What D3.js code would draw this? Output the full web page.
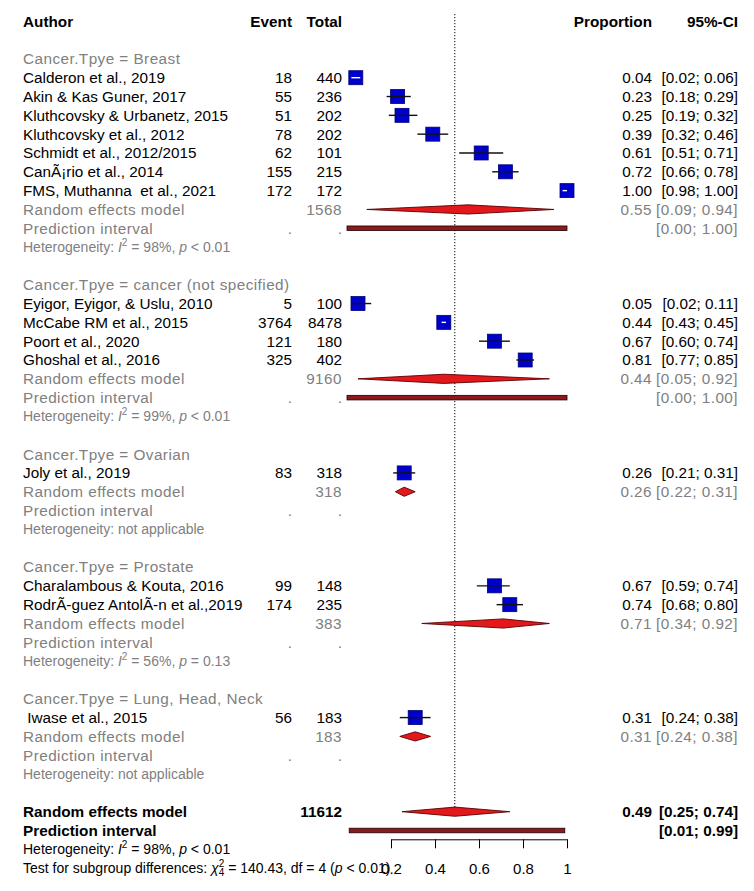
<!DOCTYPE html>
<html>
<head>
<meta charset="utf-8">
<script src="https://cdn.jsdelivr.net/npm/d3@7/dist/d3.min.js"></script>
<style>
  html, body { margin: 0; padding: 0; background: #fff; }
  svg { display: block; }
  text { font-family: "Liberation Sans", Arial, Helvetica, sans-serif; white-space: pre; }
</style>
</head>
<body>
<svg id="chart" width="754" height="891"></svg>
<script>
// ---------------- DATA ----------------
const studyAuthors = [
  "Calderon et al., 2019",
  "Akin & Kas Guner, 2017",
  "Kluthcovsky & Urbanetz, 2015",
  "Kluthcovsky et al., 2012",
  "Schmidt et al., 2012/2015",
  "CanÃ¡rio et al., 2014",
  "FMS, Muthanna  et al., 2021",
  "Eyigor, Eyigor, & Uslu, 2010",
  "McCabe RM et al., 2015",
  "Poort et al., 2020",
  "Ghoshal et al., 2016",
  "Joly et al., 2019",
  "Charalambous & Kouta, 2016",
  "RodrÃ-guez AntolÃ-n et al.,2019",
  " Iwase et al., 2015"
];
const studyEvents = [18, 55, 51, 78, 62, 155, 172, 5, 3764, 121, 325, 83, 99, 174, 56];
const studyTotals = [440, 236, 202, 202, 101, 215, 172, 100, 8478, 180, 402, 318, 148, 235, 183];
const studyProp   = [0.04, 0.23, 0.25, 0.39, 0.61, 0.72, 1.00, 0.05, 0.44, 0.67, 0.81, 0.26, 0.67, 0.74, 0.31];
const studyLower  = [0.02, 0.18, 0.19, 0.32, 0.51, 0.66, 0.98, 0.02, 0.43, 0.60, 0.77, 0.21, 0.59, 0.68, 0.24];
const studyUpper  = [0.06, 0.29, 0.32, 0.46, 0.71, 0.78, 1.00, 0.11, 0.45, 0.74, 0.85, 0.31, 0.74, 0.80, 0.38];
const studyGroup  = [0, 0, 0, 0, 0, 0, 0, 1, 1, 1, 1, 2, 3, 3, 4];

const groupNames   = ["Breast", "cancer (not specified)", "Ovarian", "Prostate", "Lung, Head, Neck"];
const groupTotal   = [1568, 9160, 318, 383, 183];
const groupProp    = [0.55, 0.44, 0.26, 0.71, 0.31];
const groupLower   = [0.09, 0.05, 0.22, 0.34, 0.24];
const groupUpper   = [0.94, 0.92, 0.31, 0.92, 0.38];
const groupPILower = [0.00, 0.00, null, null, null];
const groupPIUpper = [1.00, 1.00, null, null, null];
const groupI2      = [98, 99, null, 56, null];
const groupPval    = ["< 0.01", "< 0.01", null, "= 0.13", null];

const overallTotal = 11612;
const overallProp = 0.49, overallLower = 0.25, overallUpper = 0.74;
const overallPILower = 0.01, overallPIUpper = 0.99;
const overallI2 = 98, overallPval = "< 0.01";
const subgroupChi2 = "140.43", subgroupDf = 4, subgroupPval = "< 0.01";

const axisTicks = [0.2, 0.4, 0.6, 0.8, 1];
const axisTickLabels = ["0.2", "0.4", "0.6", "0.8", "1"];

// ---------------- LAYOUT ----------------
const svg = d3.select("#chart");
svg.append("rect").attr("width", 754).attr("height", 891).attr("fill", "#fff");

const x = d3.scaleLinear().domain([0, 1]).range([347, 567]);
const row0 = 77.7, rowH = 18.82;
const rowY = r => row0 + r * rowH;

const FS = 15.3, FSH = 14;
const GRAY = "#808080";
const xAuthor = 23, xEvent = 292, xTotal = 342, xProp = 652, xCI = 738;
const fmt = v => v.toFixed(2);
const ciStr = (l, u) => "[" + fmt(l) + "; " + fmt(u) + "]";

const gText = svg.append("g");
const gPlot = svg.append("g");

function txt(xp, r, s, opts = {}) {
  const size = opts.size || FS;
  const t = gText.append("text")
    .attr("x", xp)
    .attr("y", rowY(r) + size * 0.358)
    .attr("font-size", size)
    .attr("fill", opts.color || "#000")
    .attr("text-anchor", opts.anchor || "start")
    .attr("font-weight", opts.bold ? "bold" : "normal")
    .text(s);
  if (opts.ls) t.attr("letter-spacing", opts.ls);
  return t;
}

function hetText(r, i2, pv, color) {
  const t = gText.append("text")
    .attr("x", xAuthor).attr("y", rowY(r) + FSH * 0.358)
    .attr("font-size", FSH).attr("fill", color);
  if (i2 === null) {
    t.text("Heterogeneity: not applicable");
    return;
  }
  t.append("tspan").text("Heterogeneity: ");
  t.append("tspan").attr("font-style", "italic").text("I");
  t.append("tspan").attr("font-size", 10).attr("dy", -6).text("2");
  t.append("tspan").attr("dy", 6).text(" = " + i2 + "%, ");
  t.append("tspan").attr("font-style", "italic").text("p");
  t.append("tspan").text(" " + pv);
}

function square(r, p, l, u) {
  const cy = rowY(r), cx = x(p), s = 14;
  gPlot.append("rect")
    .attr("x", cx - s / 2).attr("y", cy - s / 2)
    .attr("width", s).attr("height", s)
    .attr("fill", "#0000cc").attr("stroke", "#00007a").attr("stroke-width", 0.8);
  const inside = x(l) >= cx - s / 2 && x(u) <= cx + s / 2;
  gPlot.append("line")
    .attr("x1", x(l)).attr("x2", x(u)).attr("y1", cy).attr("y2", cy)
    .attr("stroke", inside ? "#fff" : "#111").attr("stroke-width", 1.4);
}

function diamond(r, p, l, u) {
  const cy = rowY(r), h = 4.6;
  const pts = [[x(l), cy], [x(p), cy - h], [x(u), cy], [x(p), cy + h]];
  gPlot.append("polygon")
    .attr("points", pts.map(d => d.join(",")).join(" "))
    .attr("fill", "#e3181c").attr("stroke", "#5a0000").attr("stroke-width", 0.9);
}

function piBar(r, l, u) {
  const cy = rowY(r);
  gPlot.append("rect")
    .attr("x", x(l)).attr("y", cy - 2.3)
    .attr("width", x(u) - x(l)).attr("height", 4.6)
    .attr("fill", "#8b1a1a").attr("stroke", "#200000").attr("stroke-width", 0.8);
}

// reference dotted line at pooled estimate
let r = -1;
const overallRow = 39;
gPlot.append("line")
  .attr("x1", x(overallProp)).attr("x2", x(overallProp))
  .attr("y1", 14).attr("y2", rowY(overallRow))
  .attr("stroke", "#000").attr("stroke-width", 1).attr("stroke-dasharray", "1.2,1.8");

// header
txt(xAuthor, -3, "Author", { bold: true });
txt(xEvent, -3, "Event", { bold: true, anchor: "end" });
txt(xTotal, -3, "Total", { bold: true, anchor: "end" });
txt(xProp, -3, "Proportion", { bold: true, anchor: "end" });
txt(xCI, -3, "95%-CI", { bold: true, anchor: "end" });

groupNames.forEach((g, gi) => {
  txt(xAuthor, r, "Cancer.Tpye = " + g, { color: GRAY, ls: 0.45 });
  r++;
  studyAuthors.forEach((a, i) => {
    if (studyGroup[i] !== gi) return;
    txt(xAuthor, r, a);
    txt(xEvent, r, String(studyEvents[i]), { anchor: "end" });
    txt(xTotal, r, String(studyTotals[i]), { anchor: "end" });
    txt(xProp, r, fmt(studyProp[i]), { anchor: "end" });
    txt(xCI, r, ciStr(studyLower[i], studyUpper[i]), { anchor: "end" });
    square(r, studyProp[i], studyLower[i], studyUpper[i]);
    r++;
  });
  // random effects
  txt(xAuthor, r, "Random effects model", { color: GRAY, ls: 0.45 });
  txt(xTotal, r, String(groupTotal[gi]), { color: GRAY, anchor: "end", ls: 0.45 });
  txt(xProp, r, fmt(groupProp[gi]), { color: GRAY, anchor: "end", ls: 0.45 });
  txt(xCI, r, ciStr(groupLower[gi], groupUpper[gi]), { color: GRAY, anchor: "end", ls: 0.45 });
  const reRow = r;
  r++;
  // prediction interval
  txt(xAuthor, r, "Prediction interval", { color: GRAY, ls: 0.45 });
  txt(xEvent, r, ".", { color: GRAY, anchor: "end" });
  txt(xTotal, r, ".", { color: GRAY, anchor: "end" });
  if (groupPILower[gi] !== null) {
    txt(xCI, r, ciStr(groupPILower[gi], groupPIUpper[gi]), { color: GRAY, anchor: "end", ls: 0.45 });
    piBar(r, groupPILower[gi], groupPIUpper[gi]);
  }
  r++;
  hetText(r, groupI2[gi], groupPval[gi], GRAY);
  r++;
  r++; // blank
  diamond(reRow, groupProp[gi], groupLower[gi], groupUpper[gi]);
});

// overall
txt(xAuthor, r, "Random effects model", { bold: true });
txt(xTotal, r, String(overallTotal), { bold: true, anchor: "end" });
txt(xProp, r, fmt(overallProp), { bold: true, anchor: "end" });
txt(xCI, r, ciStr(overallLower, overallUpper), { bold: true, anchor: "end" });
diamond(r, overallProp, overallLower, overallUpper);
r++;
txt(xAuthor, r, "Prediction interval", { bold: true });
txt(xCI, r, ciStr(overallPILower, overallPIUpper), { bold: true, anchor: "end" });
piBar(r, overallPILower, overallPIUpper);
r++;
hetText(r, overallI2, overallPval, "#000");
r++;
{
  const t = gText.append("text")
    .attr("x", xAuthor).attr("y", rowY(r) + FSH * 0.358)
    .attr("font-size", FSH).attr("fill", "#000");
  t.append("tspan").text("Test for subgroup differences: ");
  t.append("tspan").attr("font-style", "italic").text("χ");
  t.append("tspan").attr("font-size", 10).attr("dy", -6).text("2");
  t.append("tspan").attr("font-size", 10).attr("dx", -5.6).attr("dy", 9).text(String(subgroupDf));
  t.append("tspan").attr("dy", -3).text(" = " + subgroupChi2 + ", df = " + subgroupDf + " (");
  t.append("tspan").attr("font-style", "italic").text("p");
  t.append("tspan").text(" " + subgroupPval + ")");
}

// axis
const axisY = 839.3;
const xa = d3.scaleLinear().domain([axisTicks[0], axisTicks[axisTicks.length - 1]])
  .range([x(axisTicks[0]), x(axisTicks[axisTicks.length - 1])]);
const axis = d3.axisBottom(xa)
  .tickValues(axisTicks)
  .tickFormat((d, i) => axisTickLabels[i])
  .tickSize(9).tickSizeOuter(0);
const ga = svg.append("g").attr("transform", `translate(0,${axisY})`).call(axis);
ga.select(".domain").attr("stroke", "#000").attr("stroke-width", 1);
ga.selectAll(".tick line").attr("stroke", "#000").attr("stroke-width", 1);
ga.selectAll(".tick text")
  .attr("font-family", "Liberation Sans, Arial, sans-serif")
  .attr("font-size", 15).attr("fill", "#000")
  .attr("dy", 0).attr("y", rowY(42) + 5.4 - axisY);
</script>
</body>
</html>
